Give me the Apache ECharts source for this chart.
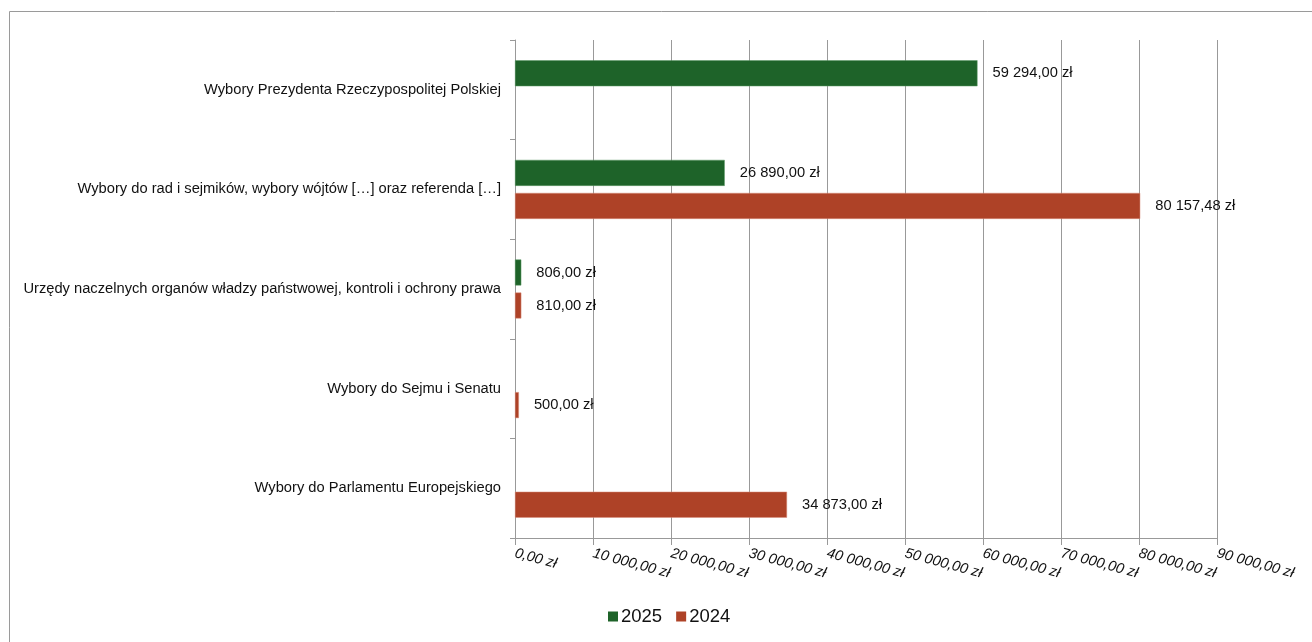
<!DOCTYPE html>
<html><head><meta charset="utf-8">
<script src="https://cdn.jsdelivr.net/npm/echarts@6/dist/echarts.min.js"></script>
<style>html,body{margin:0;padding:0;background:#fff}#c{width:1312px;height:642px}</style>
</head><body><div id="c"></div>
<script>
const categories = [
  'Wybory Prezydenta Rzeczypospolitej Polskiej',
  'Wybory do rad i sejmików, wybory wójtów […] oraz referenda […]',
  'Urzędy naczelnych organów władzy państwowej, kontroli i ochrony prawa',
  'Wybory do Sejmu i Senatu',
  'Wybory do Parlamentu Europejskiego'
];
const values2025 = [59294, 26890, 806, null, null];
const values2024 = [null, 80157.48, 810, 500, 34873];
const seriesNames = ['2025', '2024'];
const axisMin = 0, axisMax = 90000, axisInterval = 10000;

function pln(v) {
  const parts = Number(v).toFixed(2).split('.');
  const int = parts[0].replace(/\B(?=(\d{3})+(?!\d))/g, ' ');
  return int + ',' + parts[1] + ' zł';
}

const chart = echarts.init(document.getElementById('c'));
const font = 'Liberation Sans, Arial, sans-serif';
chart.setOption({
  animation: false,
  textStyle: { fontFamily: font },
  graphic: [{
    type: 'rect', shape: { x: 9.5, y: 11.5, width: 1320, height: 650 },
    style: { fill: 'none', stroke: '#9a9a9a', lineWidth: 1 }, silent: true
  }],
  legend: {
    data: seriesNames, bottom: 11, left: 603, itemWidth: 10, itemHeight: 10, itemGap: 14,
    icon: 'rect', itemStyle: { borderWidth: 0 },
    textStyle: { fontSize: 18.5, color: '#111', fontFamily: font, padding: [0, 0, 0, -2] }
  },
  grid: { left: 515, right: 95, top: 40, bottom: 104, containLabel: false },
  xAxis: {
    type: 'value', min: axisMin, max: axisMax, interval: axisInterval,
    axisLine: { show: true, lineStyle: { color: '#999', width: 1 } },
    axisTick: { show: true, length: 7, lineStyle: { color: '#999' } },
    splitLine: { show: true, lineStyle: { color: '#999', width: 1 } },
    axisLabel: {
      rotate: -15, margin: 15, fontSize: 14.6, fontStyle: 'italic', color: '#111', fontFamily: font,
      formatter: v => pln(v)
    }
  },
  yAxis: {
    type: 'category', data: categories, inverse: true,
    axisLine: { show: true, lineStyle: { color: '#999', width: 1 } },
    axisTick: { show: true, length: 5, lineStyle: { color: '#999' } },
    axisLabel: { fontSize: 14.7, color: '#111', margin: 14, fontFamily: font }
  },
  series: [
    {
      name: seriesNames[0], type: 'bar', data: values2025, barWidth: 26, barGap: '27%',
      itemStyle: { color: '#1e6329', borderColor: '#5f9a68', borderWidth: 0.5 },
      label: { show: true, position: 'right', distance: 15, fontSize: 14.7, color: '#111', fontFamily: font,
        formatter: p => pln(p.value) }
    },
    {
      name: seriesNames[1], type: 'bar', data: values2024, barWidth: 26, barGap: '27%',
      itemStyle: { color: '#ae4227', borderColor: '#d98f7c', borderWidth: 0.5 },
      label: { show: true, position: 'right', distance: 15, fontSize: 14.7, color: '#111', fontFamily: font,
        formatter: p => pln(p.value) }
    }
  ]
});
</script></body></html>
